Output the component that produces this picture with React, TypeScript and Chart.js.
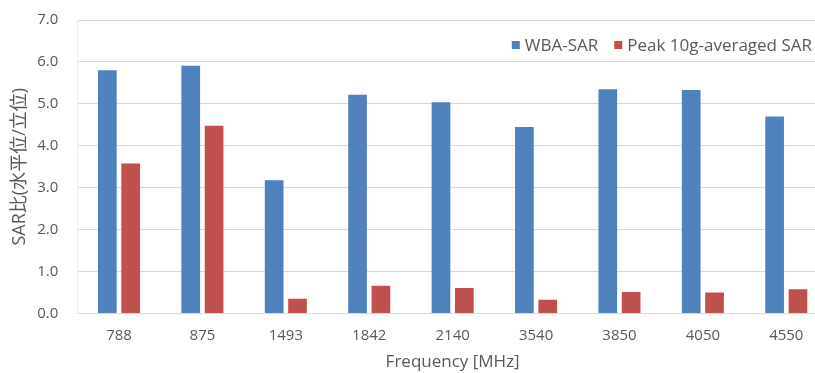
import React, { useEffect, useRef } from "react";
import Chart from "chart.js/auto";

const categories = ["788", "875", "1493", "1842", "2140", "3540", "3850", "4050", "4550"];
const wbaSar = [5.8, 5.91, 3.18, 5.22, 5.04, 4.45, 5.35, 5.33, 4.7];
const peak10gSar = [3.58, 4.48, 0.35, 0.66, 0.61, 0.33, 0.51, 0.5, 0.58];
const seriesNames = ["WBA-SAR", "Peak 10g-averaged SAR"];
const yTitle = "SAR比(水平位/立位)";
const xTitle = "Frequency [MHz]";

const FONT = "'Open Sans', 'Noto Sans CJK JP', sans-serif";

const legendPlugin = {
  id: "customLegend",
  afterDraw(chart: any) {
    const ctx = chart.ctx;
    ctx.save();
    ctx.font = `17px ${FONT}`;
    ctx.textBaseline = "middle";
    const y = 45;
    const box = 8;
    const gapBoxText = 5;
    const gapItems = 16;
    const items = chart.data.datasets.map((d: any) => ({ text: d.label, color: d.backgroundColor }));
    const widths = items.map((it: any) => box + gapBoxText + ctx.measureText(it.text).width);
    const total = widths.reduce((a: number, b: number) => a + b, 0) + gapItems * (items.length - 1);
    let x = 812 - total;
    items.forEach((it: any, i: number) => {
      ctx.fillStyle = it.color;
      ctx.fillRect(x, y - box / 2, box, box);
      ctx.fillStyle = "#595959";
      ctx.textAlign = "left";
      ctx.fillText(it.text, x + box + gapBoxText, y + 1);
      x += widths[i] + gapItems;
    });
    ctx.restore();
  },
};

export default function App() {
  const ref = useRef<HTMLCanvasElement | null>(null);
  useEffect(() => {
    const chart = new Chart(ref.current!, {
      type: "bar",
      data: {
        labels: categories,
        datasets: [
          { label: seriesNames[0], data: wbaSar, backgroundColor: "#4F81BD", categoryPercentage: 0.56, barPercentage: 0.8 },
          { label: seriesNames[1], data: peak10gSar, backgroundColor: "#C0504D", categoryPercentage: 0.56, barPercentage: 0.8 },
        ],
      },
      options: {
        responsive: false,
        animation: false,
        layout: { padding: { top: 20, right: 0, left: 0, bottom: 0 } },
        plugins: {
          tooltip: { enabled: false },
          legend: { display: false },
        },
        scales: {
          x: {
            grid: { display: false, drawTicks: false },
            border: { color: "#d9d9d9" },
            ticks: { color: "#595959", font: { family: FONT, size: 15 }, padding: 13, maxRotation: 0 },
            title: { display: true, text: xTitle, color: "#595959", font: { family: FONT, size: 17 }, padding: { top: 0, bottom: 1 } },
            afterFit: (s: any) => { s.height = 59.5; },
          },
          y: {
            min: 0,
            max: 7,
            ticks: { stepSize: 1, color: "#595959", font: { family: FONT, size: 15 }, padding: 19, callback: (v: any) => Number(v).toFixed(1) },
            grid: { color: "#d9d9d9", drawTicks: false },
            border: { color: "#ececec", display: true },
            title: { display: true, text: yTitle, color: "#595959", font: { family: FONT, size: 18 }, padding: { top: 9, bottom: 0 } },
            afterFit: (s: any) => { s.width = 77.3; s.paddingTop = 0; s.paddingBottom = 0; },
          },
        },
      },
      plugins: [legendPlugin],
    });
    return () => chart.destroy();
  }, []);
  return (
    <div style={{ position: "fixed", left: 0, top: 0, width: 815, height: 373, overflow: "hidden", background: "#fff" }}>
      <canvas ref={ref} width={828} height={373} style={{ width: 828, height: 373, display: "block" }} />
    </div>
  );
}
